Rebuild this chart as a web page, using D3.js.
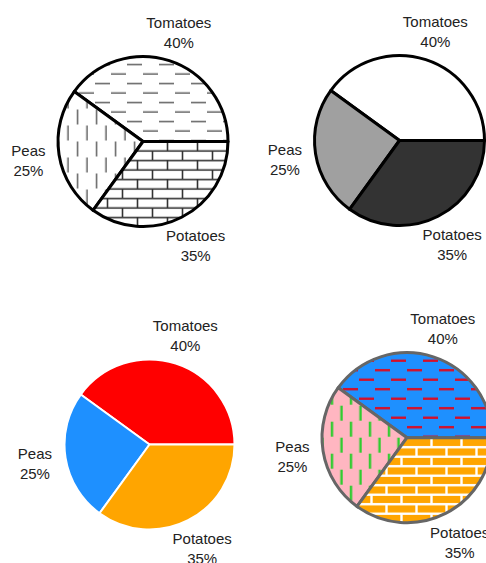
<!DOCTYPE html>
<html>
<head>
<meta charset="utf-8">
<script src="https://cdn.jsdelivr.net/npm/d3@7"></script>
<style>
  html, body { margin: 0; padding: 0; background: #fff; }
  svg { display: block; }
</style>
</head>
<body>
<svg id="chart" width="486" height="563"></svg>
<script>
// Share of vegetables grown
const categories = ["Tomatoes", "Peas", "Potatoes"];
const shares = [40, 25, 35];

const width = 486, height = 563;
const radius = 85;
const labelRadius = 116;

const svg = d3.select("#chart");
svg.append("rect").attr("width", width).attr("height", height).attr("fill", "#fff");

const defs = svg.append("defs");

// Staggered rows of short dashes; rotated 90deg they become vertical dashes.
function dashPattern(id, bg, ink, sw, angle) {
  const p = defs.append("pattern")
    .attr("id", id)
    .attr("patternUnits", "userSpaceOnUse")
    .attr("x", 0).attr("y", -5.75)
    .attr("width", 32).attr("height", 19);
  if (angle) p.attr("patternTransform", `rotate(${angle})`);
  p.append("rect").attr("width", 32).attr("height", 19).attr("fill", bg);
  [[16, 31, 4.75], [0, 15, 14.25]].forEach(([x1, x2, y]) => {
    p.append("line")
      .attr("x1", x1).attr("x2", x2).attr("y1", y).attr("y2", y)
      .attr("stroke", ink).attr("stroke-width", sw);
  });
}

// Brick wall: courses 9.5px tall, bricks 30px long, alternate courses offset.
function brickPattern(id, bg, ink, sw) {
  const p = defs.append("pattern")
    .attr("id", id)
    .attr("patternUnits", "userSpaceOnUse")
    .attr("x", 0).attr("y", -4.75)
    .attr("width", 30).attr("height", 19);
  p.append("rect").attr("width", 30).attr("height", 19).attr("fill", bg);
  const line = (x1, y1, x2, y2) => p.append("line")
    .attr("x1", x1).attr("y1", y1).attr("x2", x2).attr("y2", y2)
    .attr("stroke", ink).attr("stroke-width", sw);
  line(0, 4.75, 30, 4.75);
  line(0, 14.25, 30, 14.25);
  line(24.5, 4.75, 24.5, 14.25);
  line(9.5, 14.25, 9.5, 19);
  line(9.5, 0, 9.5, 4.75);
}

dashPattern("dash-gray", "#fff", "#555", 1.4, 0);
dashPattern("vdash-gray", "#fff", "#555", 1.4, 90);
brickPattern("brick-gray", "#fff", "#333", 1.6);

dashPattern("dash-color", "#1e90ff", "#d4102a", 2.4, 0);
dashPattern("vdash-color", "#ffb6c1", "#2ecc2e", 2.4, 90);
brickPattern("brick-color", "#ffa500", "#fff", 2.4);

// The same pie drawn four ways
const panels = [
  { cx: 143,   cy: 141.5, fills: ["url(#dash-gray)", "url(#vdash-gray)", "url(#brick-gray)"], stroke: "#000", strokeWidth: 3 },
  { cx: 399.5, cy: 140.5, fills: ["#ffffff", "#a0a0a0", "#333333"], stroke: "#000", strokeWidth: 3 },
  { cx: 149.5, cy: 444.5, fills: ["#ff0000", "#1e90ff", "#ffa500"], stroke: "#fff", strokeWidth: 2 },
  { cx: 407,   cy: 437.7, fills: ["url(#dash-color)", "url(#vdash-color)", "url(#brick-color)"], stroke: "#666", strokeWidth: 3 }
];

const data = categories.map((c, i) => ({ name: c, value: shares[i] }));

// Start at 3 o'clock and run counter-clockwise
const pie = d3.pie()
  .value(d => d.value)
  .sort(null)
  .startAngle(Math.PI / 2)
  .endAngle(Math.PI / 2 - 2 * Math.PI);

const arc = d3.arc().innerRadius(0).outerRadius(radius);
const labelArc = d3.arc().innerRadius(labelRadius).outerRadius(labelRadius);
const arcs = pie(data);

panels.forEach(panel => {
  const g = svg.append("g").attr("transform", `translate(${panel.cx},${panel.cy})`);

  g.selectAll("path.slice")
    .data(arcs)
    .join("path")
    .attr("class", "slice")
    .attr("d", arc)
    .attr("fill", (d, i) => panel.fills[i])
    .attr("stroke", panel.stroke)
    .attr("stroke-width", panel.strokeWidth)
    .attr("stroke-linejoin", "round");

  const labels = g.selectAll("text.label")
    .data(arcs)
    .join("text")
    .attr("class", "label")
    .attr("text-anchor", "middle")
    .attr("font-family", "'Liberation Sans', Arial, sans-serif")
    .attr("font-size", 15)
    .attr("fill", "#222");

  labels.each(function (d) {
    const [x, y] = labelArc.centroid(d);
    const t = d3.select(this);
    t.append("tspan").attr("x", x).attr("y", y - 3.5).text(d.data.name);
    t.append("tspan").attr("x", x).attr("y", y + 16.5).text(`${d.data.value}%`);
  });
});
</script>
</body>
</html>
